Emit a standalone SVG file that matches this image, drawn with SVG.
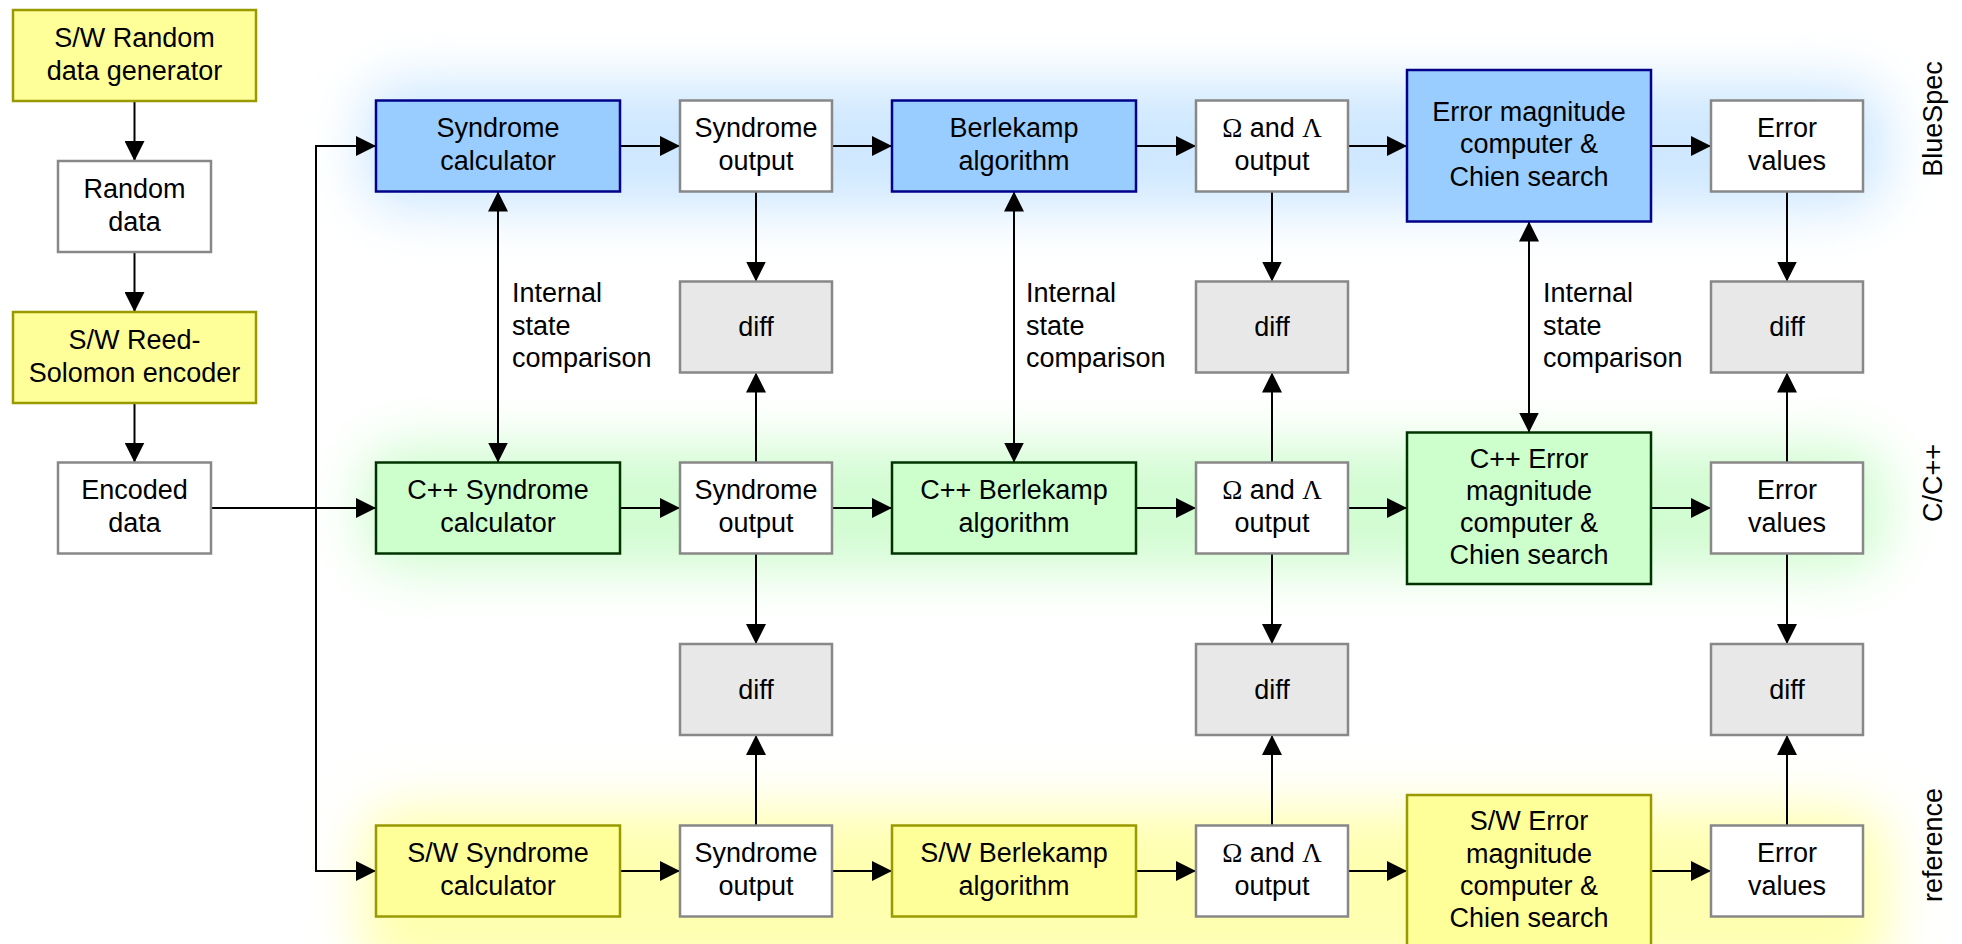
<svg xmlns="http://www.w3.org/2000/svg" width="1962" height="944" viewBox="0 0 1962 944">
<style>
  .t { font-family: "Liberation Sans", Arial, sans-serif; font-size: 27px; fill: #000; text-anchor: middle; }
  .g { font-family: "Liberation Serif", "Times New Roman", serif; }
  .lbl { font-family: "Liberation Sans", Arial, sans-serif; font-size: 27px; fill: #000; text-anchor: start; }
  .side { font-family: "Liberation Sans", Arial, sans-serif; font-size: 27px; fill: #000; text-anchor: middle; }
  .blue { fill: #99ccff; stroke: #000088; stroke-width: 2.5; }
  .green { fill: #ccffcc; stroke: #003300; stroke-width: 2.5; }
  .yellow { fill: #ffff99; stroke: #999900; stroke-width: 2.5; }
  .white { fill: #ffffff; stroke: #888888; stroke-width: 2.5; }
  .diff { fill: #e8e8e8; stroke: #888888; stroke-width: 2.5; }
  .c { fill: none; stroke: #000; stroke-width: 2; }
</style>
<defs>
  <marker id="ah" markerUnits="userSpaceOnUse" markerWidth="20" markerHeight="20" refX="20" refY="10" orient="auto">
    <path d="M0,0 L20,10 L0,20 z" fill="#000"/>
  </marker>
  <marker id="as" markerUnits="userSpaceOnUse" markerWidth="20" markerHeight="20" refX="0" refY="10" orient="auto">
    <path d="M20,0 L0,10 L20,20 z" fill="#000"/>
  </marker>
  <filter id="blur" x="-10%" y="-80%" width="120%" height="260%">
    <feGaussianBlur stdDeviation="26"/>
  </filter>
</defs>

<g id="glows">
  <rect x="362" y="82" width="1525" height="128" rx="40" fill="#cfe8ff" filter="url(#blur)"/>
  <rect x="362" y="444" width="1525" height="128" rx="40" fill="#d2fcd2" filter="url(#blur)"/>
  <rect x="362" y="808" width="1525" height="170" rx="40" fill="#ffffb0" filter="url(#blur)"/>
</g>

<g id="connectors">
  <line class="c" x1="134.5" y1="101" x2="134.5" y2="161" marker-end="url(#ah)"/>
  <line class="c" x1="134.5" y1="252" x2="134.5" y2="312" marker-end="url(#ah)"/>
  <line class="c" x1="134.5" y1="403" x2="134.5" y2="462.5" marker-end="url(#ah)"/>
  <polyline class="c" points="376,146 316,146 316,871 376,871"/>
  <line class="c" x1="316" y1="146" x2="376" y2="146" marker-end="url(#ah)"/>
  <line class="c" x1="316" y1="871" x2="376" y2="871" marker-end="url(#ah)"/>
  <line class="c" x1="211" y1="508" x2="376" y2="508" marker-end="url(#ah)"/>
  <line class="c" x1="620" y1="146" x2="680" y2="146" marker-end="url(#ah)"/>
  <line class="c" x1="832" y1="146" x2="892" y2="146" marker-end="url(#ah)"/>
  <line class="c" x1="1136" y1="146" x2="1196" y2="146" marker-end="url(#ah)"/>
  <line class="c" x1="1348" y1="146" x2="1407" y2="146" marker-end="url(#ah)"/>
  <line class="c" x1="1651" y1="146" x2="1711" y2="146" marker-end="url(#ah)"/>
  <line class="c" x1="620" y1="508" x2="680" y2="508" marker-end="url(#ah)"/>
  <line class="c" x1="832" y1="508" x2="892" y2="508" marker-end="url(#ah)"/>
  <line class="c" x1="1136" y1="508" x2="1196" y2="508" marker-end="url(#ah)"/>
  <line class="c" x1="1348" y1="508" x2="1407" y2="508" marker-end="url(#ah)"/>
  <line class="c" x1="1651" y1="508" x2="1711" y2="508" marker-end="url(#ah)"/>
  <line class="c" x1="620" y1="871" x2="680" y2="871" marker-end="url(#ah)"/>
  <line class="c" x1="832" y1="871" x2="892" y2="871" marker-end="url(#ah)"/>
  <line class="c" x1="1136" y1="871" x2="1196" y2="871" marker-end="url(#ah)"/>
  <line class="c" x1="1348" y1="871" x2="1407" y2="871" marker-end="url(#ah)"/>
  <line class="c" x1="1651" y1="871" x2="1711" y2="871" marker-end="url(#ah)"/>
  <line class="c" x1="498" y1="191.5" x2="498" y2="462.5" marker-start="url(#as)" marker-end="url(#ah)"/>
  <line class="c" x1="1014" y1="191.5" x2="1014" y2="462.5" marker-start="url(#as)" marker-end="url(#ah)"/>
  <line class="c" x1="1529" y1="221.5" x2="1529" y2="432.5" marker-start="url(#as)" marker-end="url(#ah)"/>
  <line class="c" x1="756" y1="191.5" x2="756" y2="281.5" marker-end="url(#ah)"/>
  <line class="c" x1="756" y1="462.5" x2="756" y2="372.5" marker-end="url(#ah)"/>
  <line class="c" x1="756" y1="553.5" x2="756" y2="644" marker-end="url(#ah)"/>
  <line class="c" x1="756" y1="825.5" x2="756" y2="735" marker-end="url(#ah)"/>
  <line class="c" x1="1272" y1="191.5" x2="1272" y2="281.5" marker-end="url(#ah)"/>
  <line class="c" x1="1272" y1="462.5" x2="1272" y2="372.5" marker-end="url(#ah)"/>
  <line class="c" x1="1272" y1="553.5" x2="1272" y2="644" marker-end="url(#ah)"/>
  <line class="c" x1="1272" y1="825.5" x2="1272" y2="735" marker-end="url(#ah)"/>
  <line class="c" x1="1787" y1="191.5" x2="1787" y2="281.5" marker-end="url(#ah)"/>
  <line class="c" x1="1787" y1="462.5" x2="1787" y2="372.5" marker-end="url(#ah)"/>
  <line class="c" x1="1787" y1="553.5" x2="1787" y2="644" marker-end="url(#ah)"/>
  <line class="c" x1="1787" y1="825.5" x2="1787" y2="735" marker-end="url(#ah)"/>
</g>

<g id="labels">
  <text class="lbl" x="512" y="302">Internal</text>
  <text class="lbl" x="512" y="334.5">state</text>
  <text class="lbl" x="512" y="367">comparison</text>
  <text class="lbl" x="1026" y="302">Internal</text>
  <text class="lbl" x="1026" y="334.5">state</text>
  <text class="lbl" x="1026" y="367">comparison</text>
  <text class="lbl" x="1543" y="302">Internal</text>
  <text class="lbl" x="1543" y="334.5">state</text>
  <text class="lbl" x="1543" y="367">comparison</text>
  <text class="side" transform="translate(1942,119) rotate(-90)">BlueSpec</text>
  <text class="side" transform="translate(1942,483) rotate(-90)">C/C++</text>
  <text class="side" transform="translate(1942,845) rotate(-90)">reference</text>
</g>

<g id="rand-gen"><rect class="yellow" x="13" y="10" width="243" height="91"/>
  <text class="t" x="134.5" y="47">S/W Random</text><text class="t" x="134.5" y="79.5">data generator</text></g>
<g id="rand-data"><rect class="white" x="58" y="161" width="153" height="91"/>
  <text class="t" x="134.5" y="198">Random</text><text class="t" x="134.5" y="230.5">data</text></g>
<g id="rs-enc"><rect class="yellow" x="13" y="312" width="243" height="91"/>
  <text class="t" x="134.5" y="349">S/W Reed-</text><text class="t" x="134.5" y="381.5">Solomon encoder</text></g>
<g id="enc-data"><rect class="white" x="58" y="462.5" width="153" height="91"/>
  <text class="t" x="134.5" y="499">Encoded</text><text class="t" x="134.5" y="531.5">data</text></g>

<g id="bs-syn"><rect class="blue" x="376" y="100.5" width="244" height="91"/>
  <text class="t" x="498" y="137">Syndrome</text><text class="t" x="498" y="169.5">calculator</text></g>
<g id="bs-synout"><rect class="white" x="680" y="100.5" width="152" height="91"/>
  <text class="t" x="756" y="137">Syndrome</text><text class="t" x="756" y="169.5">output</text></g>
<g id="bs-berl"><rect class="blue" x="892" y="100.5" width="244" height="91"/>
  <text class="t" x="1014" y="137">Berlekamp</text><text class="t" x="1014" y="169.5">algorithm</text></g>
<g id="bs-ol"><rect class="white" x="1196" y="100.5" width="152" height="91"/>
  <text class="t" x="1272" y="137"><tspan class="g">Ω</tspan> and <tspan class="g">Λ</tspan></text><text class="t" x="1272" y="169.5">output</text></g>
<g id="bs-err"><rect class="blue" x="1407" y="70" width="244" height="151.5"/>
  <text class="t" x="1529" y="120.5">Error magnitude</text><text class="t" x="1529" y="153">computer &amp;</text><text class="t" x="1529" y="185.5">Chien search</text></g>
<g id="bs-ev"><rect class="white" x="1711" y="100.5" width="152" height="91"/>
  <text class="t" x="1787" y="137">Error</text><text class="t" x="1787" y="169.5">values</text></g>

<g id="diff-1a"><rect class="diff" x="680" y="281.5" width="152" height="91"/><text class="t" x="756" y="336">diff</text></g>
<g id="diff-1b"><rect class="diff" x="1196" y="281.5" width="152" height="91"/><text class="t" x="1272" y="336">diff</text></g>
<g id="diff-1c"><rect class="diff" x="1711" y="281.5" width="152" height="91"/><text class="t" x="1787" y="336">diff</text></g>
<g id="diff-2a"><rect class="diff" x="680" y="644" width="152" height="91"/><text class="t" x="756" y="699">diff</text></g>
<g id="diff-2b"><rect class="diff" x="1196" y="644" width="152" height="91"/><text class="t" x="1272" y="699">diff</text></g>
<g id="diff-2c"><rect class="diff" x="1711" y="644" width="152" height="91"/><text class="t" x="1787" y="699">diff</text></g>

<g id="c-syn"><rect class="green" x="376" y="462.5" width="244" height="91"/>
  <text class="t" x="498" y="499">C++ Syndrome</text><text class="t" x="498" y="531.5">calculator</text></g>
<g id="c-synout"><rect class="white" x="680" y="462.5" width="152" height="91"/>
  <text class="t" x="756" y="499">Syndrome</text><text class="t" x="756" y="531.5">output</text></g>
<g id="c-berl"><rect class="green" x="892" y="462.5" width="244" height="91"/>
  <text class="t" x="1014" y="499">C++ Berlekamp</text><text class="t" x="1014" y="531.5">algorithm</text></g>
<g id="c-ol"><rect class="white" x="1196" y="462.5" width="152" height="91"/>
  <text class="t" x="1272" y="499"><tspan class="g">Ω</tspan> and <tspan class="g">Λ</tspan></text><text class="t" x="1272" y="531.5">output</text></g>
<g id="c-err"><rect class="green" x="1407" y="432.5" width="244" height="151.5"/>
  <text class="t" x="1529" y="467.5">C++ Error</text><text class="t" x="1529" y="500">magnitude</text><text class="t" x="1529" y="532">computer &amp;</text><text class="t" x="1529" y="564">Chien search</text></g>
<g id="c-ev"><rect class="white" x="1711" y="462.5" width="152" height="91"/>
  <text class="t" x="1787" y="499">Error</text><text class="t" x="1787" y="531.5">values</text></g>

<g id="sw-syn"><rect class="yellow" x="376" y="825.5" width="244" height="91"/>
  <text class="t" x="498" y="862">S/W Syndrome</text><text class="t" x="498" y="894.5">calculator</text></g>
<g id="sw-synout"><rect class="white" x="680" y="825.5" width="152" height="91"/>
  <text class="t" x="756" y="862">Syndrome</text><text class="t" x="756" y="894.5">output</text></g>
<g id="sw-berl"><rect class="yellow" x="892" y="825.5" width="244" height="91"/>
  <text class="t" x="1014" y="862">S/W Berlekamp</text><text class="t" x="1014" y="894.5">algorithm</text></g>
<g id="sw-ol"><rect class="white" x="1196" y="825.5" width="152" height="91"/>
  <text class="t" x="1272" y="862"><tspan class="g">Ω</tspan> and <tspan class="g">Λ</tspan></text><text class="t" x="1272" y="894.5">output</text></g>
<g id="sw-err"><rect class="yellow" x="1407" y="795" width="244" height="151.5"/>
  <text class="t" x="1529" y="830">S/W Error</text><text class="t" x="1529" y="862.5">magnitude</text><text class="t" x="1529" y="894.5">computer &amp;</text><text class="t" x="1529" y="926.5">Chien search</text></g>
<g id="sw-ev"><rect class="white" x="1711" y="825.5" width="152" height="91"/>
  <text class="t" x="1787" y="862">Error</text><text class="t" x="1787" y="894.5">values</text></g>
</svg>
